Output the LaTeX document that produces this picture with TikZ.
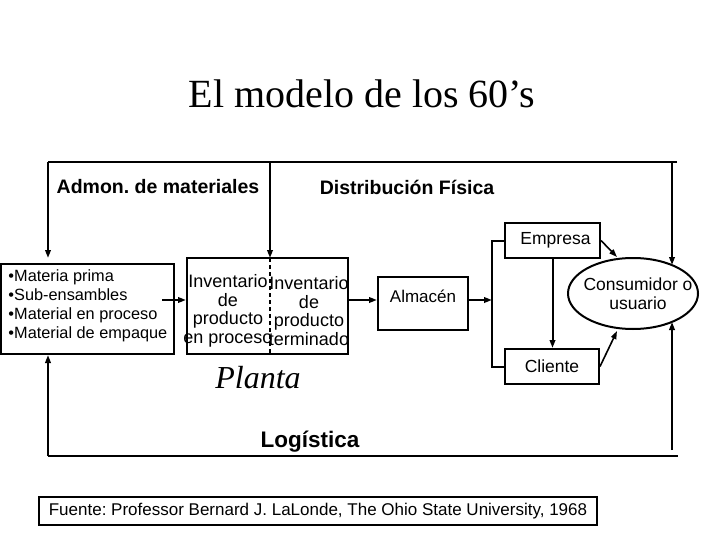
\documentclass[tikz,border=0pt]{standalone}
\usepackage{fontspec}
\setmainfont{Liberation Serif}
\setsansfont{Liberation Sans}
\usetikzlibrary{arrows.meta,shapes.geometric}
\frenchspacing
\begin{document}
\begin{tikzpicture}[x=1pt,y=-1pt,line width=2pt,
  box/.style={draw,line width=2pt,inner sep=0pt,font=\sffamily\fontsize{17.5}{19}\selectfont},
  txt/.style={inner sep=0pt,font=\sffamily\fontsize{17}{19}\selectfont},
  lbl/.style={inner sep=0pt,font=\sffamily\bfseries\fontsize{19.5}{22}\selectfont},
  arr/.style={-{Triangle[length=8pt,width=5.5pt]}},
  thin arr/.style={-{Triangle[length=8pt,width=5.5pt]},line width=1.6pt}]
\useasboundingbox (0,0) rectangle (720,540);
\fill[white] (0,0) rectangle (720,540);
% title and labels
\node[inner sep=0pt,font=\rmfamily\fontsize{40}{44}\selectfont] (title) at (362,94) {El modelo de los 60’s};
\node[lbl] (admon) at (158,187) {Admon. de materiales};
\node[lbl] (dist) at (407,187) {Distribución Física};
\node[lbl,font=\sffamily\bfseries\fontsize{22.5}{25}\selectfont] (log) at (310,442) {Logística};
\node[inner sep=0pt,font=\rmfamily\itshape\fontsize{32}{36}\selectfont] (planta) at (258,378) {Planta};
% boxes
\node[box,minimum width=173pt,minimum height=90pt] (mat) at (87.5,309) {};
\node[txt,anchor=west,align=left,font=\sffamily\fontsize{16.3}{19}\selectfont] (matt) at (7.5,306) {•Materia prima\\•Sub-ensambles\\•Material en proceso\\•Material de empaque};
\node[box,minimum width=161pt,minimum height=96pt] (inv) at (267.5,306) {};
\node[txt,align=center,font=\sffamily\fontsize{18}{18.5}\selectfont] (invl) at (228,311) {Inventario\\de\\producto\\en proceso};
\node[txt,align=center,font=\sffamily\fontsize{18}{18.5}\selectfont] (invr) at (309,311) {Inventario\\de\\producto\\terminado};
\coordinate (dtop) at (270,258);
\coordinate (dbot) at (270,354);
\draw[line width=1.5pt,dash pattern=on 4pt off 3pt] (dtop) -- (dbot);
\node[box,minimum width=90pt,minimum height=53pt] (alm) at (423,303.5) {};
\node[txt] (almt) at (423,296) {Almacén};
\node[box,minimum width=95pt,minimum height=35pt] (emp) at (552.5,240.5) {\hspace{6pt}Empresa};
\node[box,minimum width=94pt,minimum height=35pt] (cli) at (552,366.5) {Cliente\hspace{20pt}};
\node[draw,ellipse,line width=2pt,minimum width=130pt,minimum height=71pt,inner sep=0pt] (cons) at (633,293.5) {};
\node[txt,align=center,font=\sffamily\fontsize{17.5}{19}\selectfont] (const) at (638,294) {Consumidor o\\usuario};
\node[box,minimum width=558pt,minimum height=28pt,font=\sffamily\fontsize{17}{19}\selectfont] (src) at (318,511) {Fuente: Professor Bernard J. LaLonde, The Ohio State University, 1968};
% frame coordinates
\coordinate (tl) at (48,162);
\coordinate (tr) at (677,162);
\coordinate (bl) at (48,456);
\coordinate (br) at (678,456);
\coordinate (rt) at (672,162);
\coordinate (ct) at (672,265);
\coordinate (cb) at (672,322);
\coordinate (rb) at (672,450);
\coordinate (ay) at (0,300);
\coordinate (mstart) at (162,300);
\coordinate (bx) at (492,300);
\coordinate (e1) at (617,257);
\coordinate (c1) at (617,331);
% connectors
\draw (tr) -- (tl);
\draw[arr,shorten >=5pt] (tl) -- (tl |- mat.north);
\draw[arr] (tl -| dtop) -- (dtop);
\draw[arr] (rt) -- (ct);
\draw (bl) -- (br);
\draw[arr] (bl) -- (bl |- mat.south);
\draw[arr] (rb) -- (cb);
\draw[arr] (mstart) -- (inv.west |- mstart);
\draw[arr] (inv.east |- ay) -- (alm.west |- ay);
\draw[arr] (alm.east |- ay) -- (bx);
\draw (emp.west) -- (emp.west -| bx) -- (cli.west -| bx) -- (cli.west);
\draw[arr] (emp.south) -- (emp.south |- cli.north);
\draw[thin arr] (emp.east) -- (e1);
\draw[thin arr] (cli.east) -- (c1);
\end{tikzpicture}
\end{document}
